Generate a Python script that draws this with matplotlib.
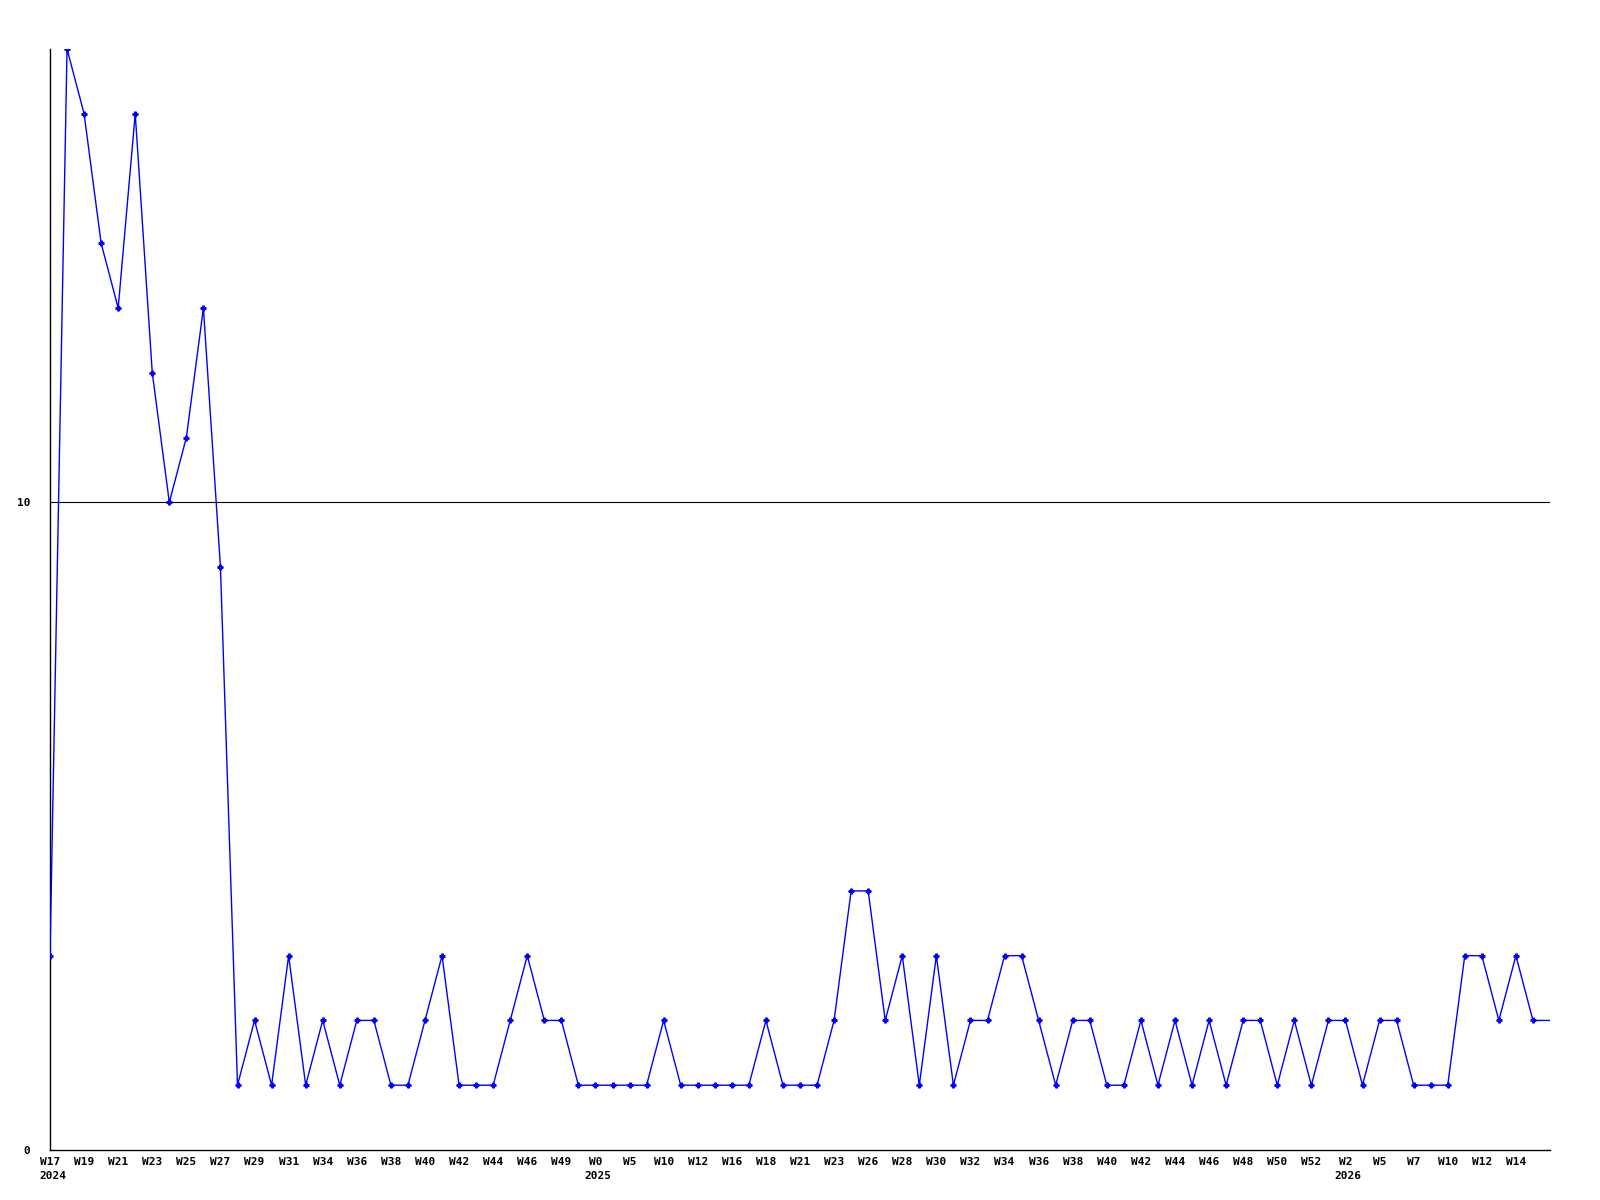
import matplotlib
matplotlib.use("Agg")
import matplotlib.pyplot as plt

OUTPUT_PLOT = "out.png"

# weekly counts, one per point (last value is the partial week, drawn without marker)
counts = [3, 17, 16, 14, 13, 16, 12, 10, 11, 13,
          9, 1, 2, 1, 3, 1, 2, 1, 2, 2,
          1, 1, 2, 3, 1, 1, 1, 2, 3, 2,
          2, 1, 1, 1, 1, 1, 2, 1, 1, 1,
          1, 1, 2, 1, 1, 1, 2, 4, 4, 2,
          3, 1, 3, 1, 2, 2, 3, 3, 2, 1,
          2, 2, 1, 1, 2, 1, 2, 1, 2, 1,
          2, 2, 1, 2, 1, 2, 2, 1, 2, 2,
          1, 1, 1, 3, 3, 2, 3, 2, 2]

# labels shown on every second point
week_labels = ["W17", "W19", "W21", "W23", "W25", "W27", "W29", "W31", "W34", "W36",
               "W38", "W40", "W42", "W44", "W46", "W49", "W0", "W5", "W10", "W12",
               "W16", "W18", "W21", "W23", "W26", "W28", "W30", "W32", "W34", "W36",
               "W38", "W40", "W42", "W44", "W46", "W48", "W50", "W52", "W2", "W5",
               "W7", "W10", "W12", "W14"]
year_labels = {0: "2024", 32: "2025", 76: "2026"}

FONT = dict(family="DejaVu Sans Mono", fontweight="bold", fontsize=8)

x = list(range(len(counts)))
tick_pos = list(range(0, 2 * len(week_labels), 2))

fig = plt.figure(figsize=(16, 12), dpi=100)
ax = fig.add_axes([0.03125, 0.0417, 0.9375, 0.9175])

ax.axhline(10, color="black", linewidth=0.8, zorder=1)
ax.plot(x, counts, color="#0000ff", linewidth=1.0, marker="P", markersize=3.5,
        markevery=list(range(len(counts) - 1)), zorder=3)

ax.set_xlim(0, len(counts) - 1)
ax.set_ylim(0, 17)
ax.set_yticks([0, 10])
ax.set_yticklabels(["0", "10"], **FONT)
ax.set_xticks(tick_pos)
ax.set_xticklabels(week_labels, **FONT)
ax.tick_params(axis="both", length=0)
ax.tick_params(axis="x", pad=5)
ax.tick_params(axis="y", pad=14)

# year goes under the first week label of that year
for pos, yr in year_labels.items():
    ax.annotate(yr, xy=(pos, 0), xycoords=("data", "axes fraction"),
                xytext=(-8, -15), textcoords="offset points",
                ha="left", va="top", **FONT)

for side in ("top", "right"):
    ax.spines[side].set_visible(False)
for side in ("left", "bottom"):
    ax.spines[side].set_linewidth(1.0)

plt.savefig(OUTPUT_PLOT, dpi=100)
